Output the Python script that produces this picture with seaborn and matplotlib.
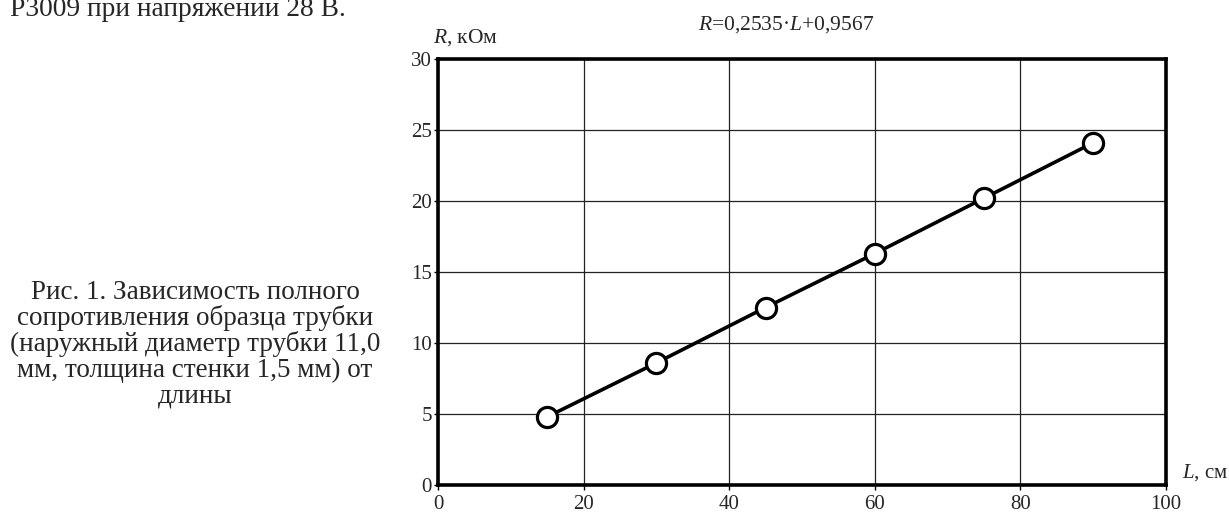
import matplotlib
matplotlib.use("Agg")
import matplotlib.pyplot as plt
import seaborn as sns
import pandas as pd

L_cm = [15, 30, 45, 60, 75, 90]
R_kOhm = [4.8, 8.6, 12.5, 16.3, 20.2, 24.1]
x_ticks = [0, 20, 40, 60, 80, 100]
y_ticks = [0, 5, 10, 15, 20, 25, 30]
equation = "$R$=0,2535·$L$+0,9567"
top_text = "Р3009 при напряжении 28 В."
caption = ("Рис. 1. Зависимость полного\nсопротивления образца трубки\n"
           "(наружный диаметр трубки 11,0\nмм, толщина стенки 1,5 мм) от\nдлины")

sns.set_style("white")
plt.rcParams['font.family'] = ['Liberation Serif', 'DejaVu Serif']
plt.rcParams['mathtext.fontset'] = 'custom'
plt.rcParams['mathtext.rm'] = 'Liberation Serif'
plt.rcParams['mathtext.it'] = 'Liberation Serif:italic'

df = pd.DataFrame({"L": L_cm, "R": R_kOhm})

W, H = 1229, 513
fig = plt.figure(figsize=(W / 100, H / 100), dpi=100)
left, right, top, bottom = 438, 1166, 59, 485
ax = fig.add_axes([left / W, 1 - bottom / H, (right - left) / W, (bottom - top) / H])
sns.lineplot(data=df, x="L", y="R", ax=ax, color="black", linewidth=2.6,
             marker="o", markersize=14.5, markerfacecolor="white",
             markeredgecolor="black", markeredgewidth=2.3, zorder=5)
ax.set_xlim(0, 100)
ax.set_ylim(0, 30)
ax.set_xticks(x_ticks)
ax.set_yticks(y_ticks)
ax.set_xticklabels([str(t) for t in x_ticks])
ax.set_yticklabels([str(t) for t in y_ticks])
ax.grid(True, color="#222222", linewidth=0.9)
ax.set_axisbelow(True)
for s in ax.spines.values():
    s.set_visible(True)
    s.set_color("black")
    s.set_linewidth(2.6)
ax.tick_params(axis="x", labelsize=15, length=3.5, width=1, color="black",
               direction="out", pad=3.5, bottom=True)
ax.tick_params(axis="y", labelsize=15, length=3, width=1, color="black",
               direction="out", pad=1.5, left=True)
ax.set_xlabel("")
ax.set_ylabel("")

fig.text(433 / W, 1 - 38 / H, "$R$, кОм", fontsize=15.5, ha="left", va="center")
fig.text(786 / W, 1 - 25 / H, equation, fontsize=15.5, ha="center", va="center")
fig.text(1182 / W, 1 - 473 / H, "$L$, см", fontsize=15, ha="left", va="center")
fig.text(10 / W, 1 - 16 / H, top_text, fontsize=19.8, ha="left", va="baseline")
fig.text(195 / W, 1 - 344 / H, caption, fontsize=19.5, ha="center", va="center",
         linespacing=1.02)

fig.savefig("out.png", dpi=100)
